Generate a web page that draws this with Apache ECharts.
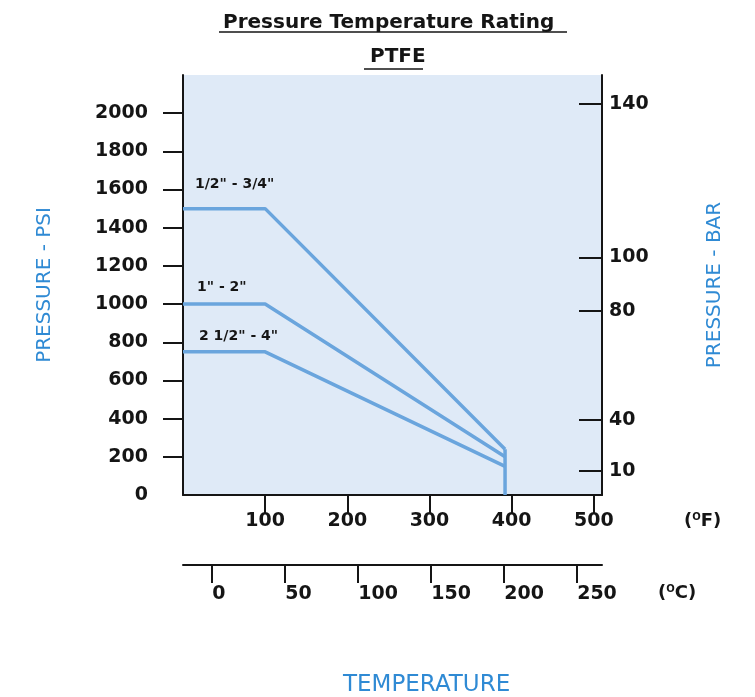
<!DOCTYPE html>
<html>
<head>
<meta charset="utf-8">
<script src="https://cdn.jsdelivr.net/npm/echarts@6/dist/echarts.min.js"></script>
<style>
    html, body { margin: 0; padding: 0; background: #fff; }
    #chart { width: 755px; height: 697px; }
</style>
</head>
<body>
<div id="chart"></div>
<script>
// 数据部分
var sizeNames = ['1/2" - 3/4"', '1" - 2"', '2 1/2" - 4"'];
var tempF = [0, 100, 392];
var psiSmall = [1500, 1500, 240];
var psiMid = [1000, 1000, 200];
var psiLarge = [750, 750, 150];
var cutoffF = [392, 392];
var cutoffPsi = [240, 0];

// 刻度
var psiTicks = [200, 400, 600, 800, 1000, 1200, 1400, 1600, 1800, 2000];
var psiLabels = [0, 200, 400, 600, 800, 1000, 1200, 1400, 1600, 1800, 2000];
var barLabels = [10, 40, 80, 100, 140];
var barAtPsi = [126, 394, 966, 1244, 2047];
var fTicks = [100, 200, 300, 400, 500];
var cTicks = [0, 50, 100, 150, 200, 250];

var FONT = 'DejaVu Sans';
var INK = '#151515';
var BLUE = '#2f8ad4';
var LINE = '#6aa5dd';

var myChart = echarts.init(document.getElementById('chart'));

function tickLabel() {
    return {
        fontFamily: FONT, fontWeight: 'bold', fontSize: 19, color: INK,
        formatter: function (v) { return String(v); }
    };
}

function sizeLabel(name, offset) {
    return {
        symbol: 'circle',
        symbolSize: 1,
        itemStyle: { color: 'transparent' },
        label: {
            show: true,
            position: 'inside',
            align: 'left',
            verticalAlign: 'middle',
            offset: offset,
            formatter: name,
            fontFamily: FONT,
            fontWeight: 'bold',
            fontSize: 14,
            color: INK
        }
    };
}

function pts(xs, ys) {
    return xs.map(function (x, i) { return [x, ys[i]]; });
}

var axisLine = { show: true, onZero: false, lineStyle: { color: INK, width: 2 } };
var unitRich = { s: { fontFamily: FONT, fontSize: 10, fontWeight: 'bold', color: INK, verticalAlign: 'top', padding: [0, 0, 8, 0] } };

var option = {
    animation: false,
    grid: {
        left: 183, right: 153, top: 75, bottom: 202,
        show: true, backgroundColor: '#dfeaf7', borderWidth: 0
    },
    title: [{
        text: 'Pressure Temperature Rating',
        left: 218, top: 8,
        textStyle: { fontFamily: FONT, fontWeight: 'bold', fontSize: 20, color: INK }
    }, {
        text: 'PTFE',
        left: 365, top: 42,
        textStyle: { fontFamily: FONT, fontWeight: 'bold', fontSize: 20, color: INK }
    }],
    graphic: [
        { type: 'line', shape: { x1: 219, y1: 32, x2: 567, y2: 32 }, style: { stroke: INK, lineWidth: 1.5 } },
        { type: 'line', shape: { x1: 364, y1: 69, x2: 423, y2: 69 }, style: { stroke: INK, lineWidth: 1.5 } },
        {
            type: 'text', left: 343, top: 674,
            style: { text: 'TEMPERATURE', fontFamily: FONT, fontSize: 23, fill: BLUE }
        }
    ],
    xAxis: [{
        type: 'value', min: 0, max: 510, position: 'bottom',
        name: '({s|O}F)', nameLocation: 'end', nameGap: 82,
        nameTextStyle: { fontFamily: FONT, fontWeight: 'bold', fontSize: 18, color: INK, padding: [52, 0, 0, 0], rich: unitRich },
        axisLine: axisLine,
        axisTick: { show: true, customValues: fTicks, length: 18, lineStyle: { color: INK, width: 2 } },
        axisLabel: Object.assign(tickLabel(), { customValues: fTicks, margin: 17 }),
        splitLine: { show: false }
    }, {
        type: 'value', min: -20, max: 267, position: 'bottom', offset: 70,
        name: '({s|O}C)', nameLocation: 'end', nameGap: 56,
        nameTextStyle: { fontFamily: FONT, fontWeight: 'bold', fontSize: 18, color: INK, padding: [56, 0, 0, 0], rich: unitRich },
        axisLine: axisLine,
        axisTick: { show: true, customValues: cTicks, length: 18, lineStyle: { color: INK, width: 2 } },
        axisLabel: Object.assign(tickLabel(), { customValues: cTicks, margin: 20, align: 'left' }),
        splitLine: { show: false }
    }],
    yAxis: [{
        type: 'value', min: 0, max: 2200, position: 'left',
        name: 'PRESSURE - PSI', nameLocation: 'middle', nameRotate: 90, nameGap: 128,
        nameTextStyle: { fontFamily: FONT, fontSize: 20, color: BLUE },
        axisLine: axisLine,
        axisTick: { show: true, customValues: psiTicks, length: 20, lineStyle: { color: INK, width: 2 } },
        axisLabel: Object.assign(tickLabel(), { customValues: psiLabels, margin: 35 }),
        splitLine: { show: false }
    }, {
        type: 'value', min: 0, max: 2200, position: 'right',
        name: 'PRESSURE - BAR', nameLocation: 'middle', nameRotate: 90, nameGap: 103,
        nameTextStyle: { fontFamily: FONT, fontSize: 20, color: BLUE },
        axisLine: axisLine,
        axisTick: { show: true, inside: true, customValues: barAtPsi, length: 23, lineStyle: { color: INK, width: 2 } },
        axisLabel: Object.assign(tickLabel(), {
            customValues: barAtPsi, margin: 7,
            formatter: function (v) {
                var i = barAtPsi.indexOf(v);
                return i >= 0 ? String(barLabels[i]) : '';
            }
        }),
        splitLine: { show: false }
    }],
    series: [{
        name: sizeNames[0], type: 'line', symbol: 'none',
        lineStyle: { color: LINE, width: 3.5 },
        data: pts(tempF, psiSmall),
        markPoint: { data: [Object.assign({ coord: [tempF[0], psiSmall[0]] }, sizeLabel(sizeNames[0], [12, -24]))] }
    }, {
        name: sizeNames[1], type: 'line', symbol: 'none',
        lineStyle: { color: LINE, width: 3.5 },
        data: pts(tempF, psiMid),
        markPoint: { data: [Object.assign({ coord: [tempF[0], psiMid[0]] }, sizeLabel(sizeNames[1], [14, -17]))] }
    }, {
        name: sizeNames[2], type: 'line', symbol: 'none',
        lineStyle: { color: LINE, width: 3.5 },
        data: pts(tempF, psiLarge),
        markPoint: { data: [Object.assign({ coord: [tempF[0], psiLarge[0]] }, sizeLabel(sizeNames[2], [16, -15]))] }
    }, {
        name: 'cutoff', type: 'line', symbol: 'none',
        lineStyle: { color: LINE, width: 3.5 },
        data: pts(cutoffF, cutoffPsi)
    }]
};

myChart.setOption(option);
</script>
</body>
</html>
